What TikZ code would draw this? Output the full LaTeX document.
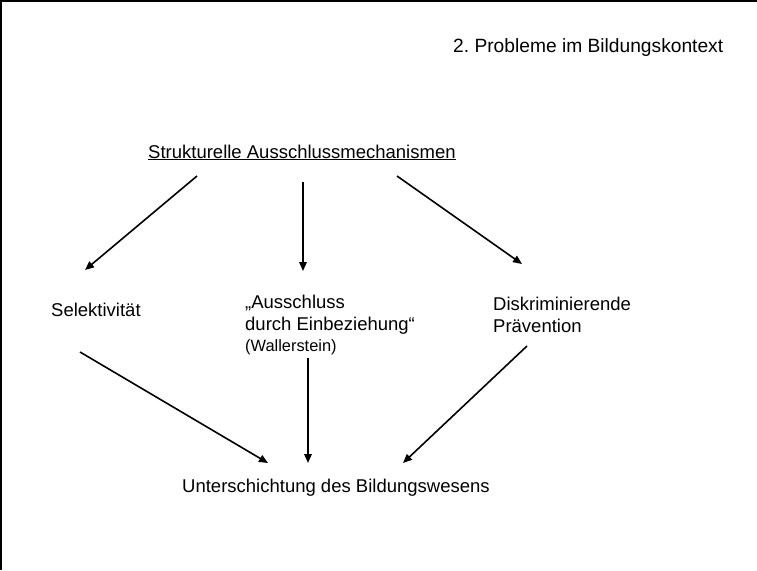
\documentclass[tikz,border=0pt]{standalone}
\usepackage{fontspec}
\setmainfont{Liberation Sans}
\usetikzlibrary{arrows.meta}
\frenchspacing
\begin{document}
\begin{tikzpicture}[x=1pt,y=-1pt,
  lbl/.style={anchor=base west, inner sep=0pt, font=\fontsize{18.5}{22}\selectfont},
  ttl/.style={anchor=base west, inner sep=0pt, font=\fontsize{19.2}{22}\selectfont},
  sm/.style={anchor=base west, inner sep=0pt, font=\fontsize{16.4}{20}\selectfont},
  arr/.style={line width=1.6pt, -{Triangle[length=9pt,width=7.5pt]}}]
\useasboundingbox (0,0) rectangle (757,570);
\draw[line width=1.5pt] (0.75,570) -- (0.75,0.75) -- (757,0.75);
\node[ttl] (title) at (453,52) {2. Probleme im Bildungskontext};
\node[lbl] (struct) at (148,158) {\underline{Strukturelle Ausschlussmechanismen}};
\node[lbl] (sel) at (51,316) {Selektivität};
\node[lbl] (ausA) at (245,308) {„Ausschluss};
\node[lbl] (ausB) at (245,330) {durch Einbeziehung“};
\node[sm] (ausC) at (245,351) {(Wallerstein)};
\node[lbl] (disA) at (493,310) {Diskriminierende};
\node[lbl] (disB) at (493,332) {Prävention};
\node[lbl] (unter) at (182,492) {Unterschichtung des Bildungswesens};
% connector ends
\coordinate (s1) at (197,176); \coordinate (e1) at (85,270);
\coordinate (s2) at (303,182); \coordinate (e2) at (303,271);
\coordinate (s3) at (397,176); \coordinate (e3) at (522,264);
\coordinate (s4) at (80,352);  \coordinate (e4) at (268,463);
\coordinate (s5) at (308,358); \coordinate (e5) at (308,463);
\coordinate (s6) at (527,346); \coordinate (e6) at (403,463);
\draw[arr] (s1) -- (e1);
\draw[arr] (s2) -- (e2);
\draw[arr] (s3) -- (e3);
\draw[arr] (s4) -- (e4);
\draw[arr] (s5) -- (e5);
\draw[arr] (s6) -- (e6);
\end{tikzpicture}
\end{document}
